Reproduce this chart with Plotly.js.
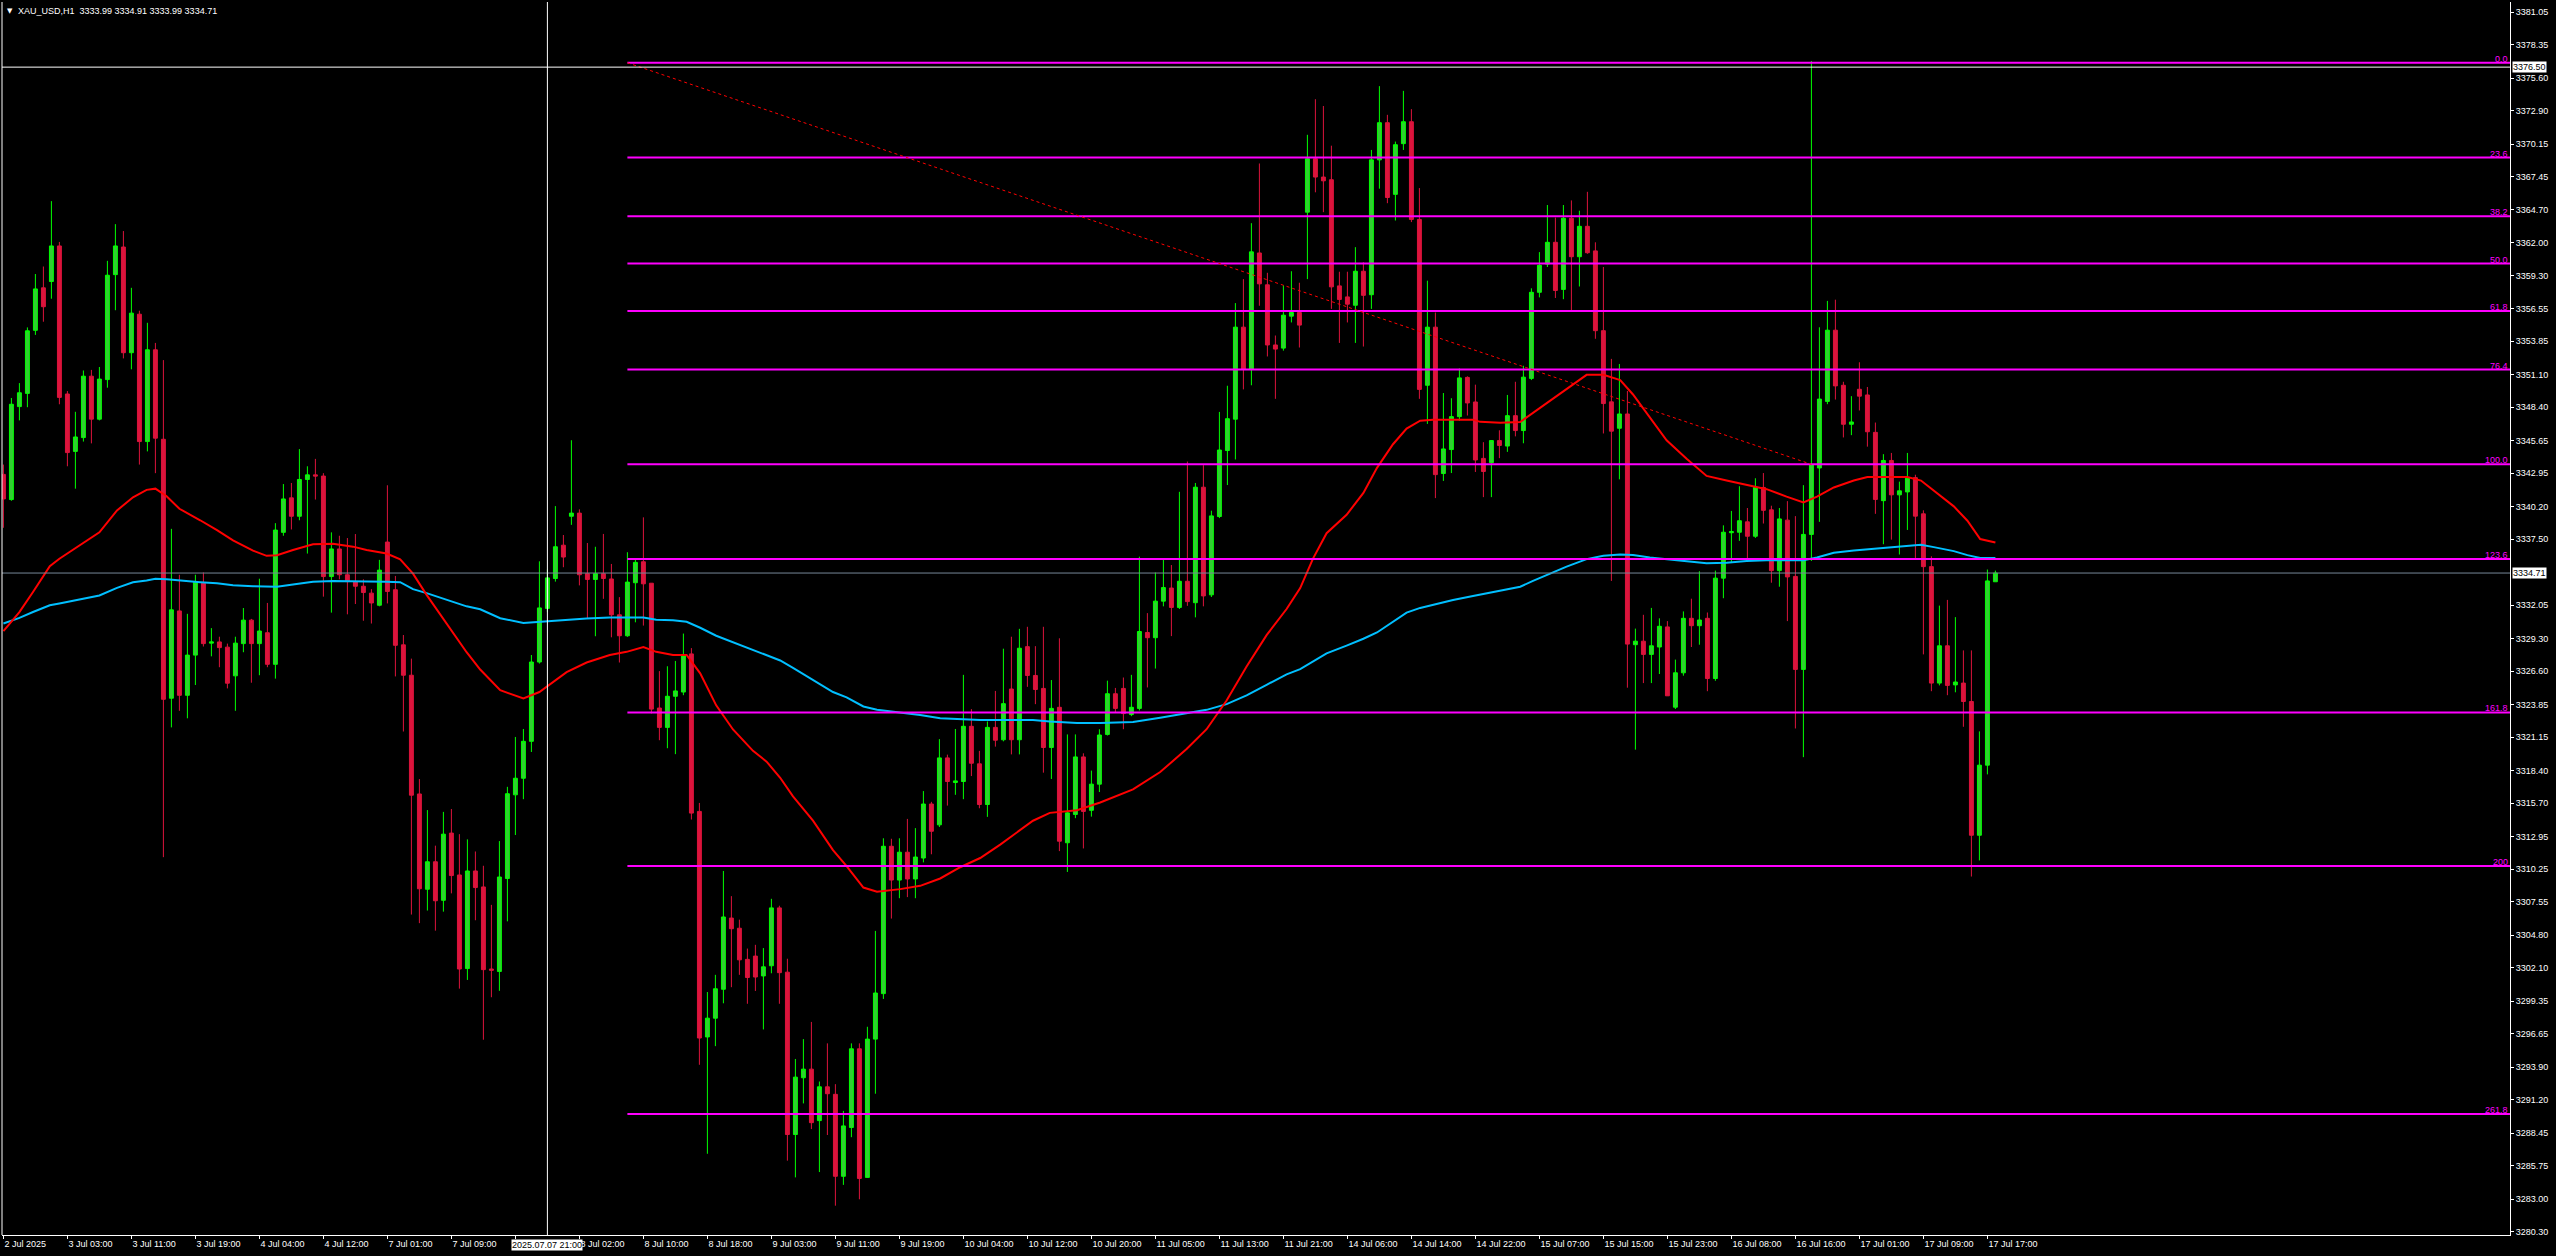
<!DOCTYPE html>
<html>
<head>
<meta charset="utf-8">
<script src="https://cdn.plot.ly/plotly-3.0.1.min.js"></script>
<style>
html,body{margin:0;padding:0;background:#000;overflow:hidden}
#chart{width:2556px;height:1256px}
</style>
</head>
<body>
<div id="chart"></div>
<script>
// ---------- DATA ----------
const symbolTitle = "XAU_USD,H1\u00a0\u00a03333.99 3334.91 3333.99 3334.71";

const openP = [
3342.86,3340.78,3348.46,3349.55,3354.76,3358.27,3358.79,3361.73,3349.50,3344.76,
3345.90,3350.97,3347.42,3350.69,3359.36,3361.64,3352.91,3356.09,3345.57,3353.15,
3345.76,3324.37,3331.58,3324.61,3327.93,3333.86,3328.92,3329.02,3328.59,3326.22,
3328.88,3330.82,3328.88,3329.78,3327.17,3338.07,3340.92,3339.40,3342.44,3342.82,
3342.72,3334.42,3336.70,3334.57,3334.00,3333.62,3333.05,3332.05,3337.27,3333.33,
3328.78,3326.27,3316.46,3308.59,3310.86,3307.68,3313.23,3309.77,3302.04,3310.10,
3308.78,3302.00,3301.80,3309.48,3316.39,3317.76,3320.81,3327.36,3331.79,3334.26,
3337.01,3339.40,3339.66,3334.66,3334.18,3334.66,3334.22,3331.26,3329.53,3333.91,
3335.64,3333.87,3323.56,3321.96,3324.53,3324.88,3328.03,3315.02,3296.39,3297.94,
3300.33,3306.21,3305.37,3302.80,3303.07,3301.43,3302.27,3307.05,3301.74,3288.33,
3293.02,3293.73,3289.48,3292.27,3291.65,3284.88,3288.91,3295.41,3284.79,3296.21,
3299.97,3312.14,3309.35,3311.65,3309.44,3311.17,3315.63,3313.91,3319.44,3317.41,
3317.49,3322.05,3318.95,3315.59,3321.96,3320.94,3325.13,3320.94,3328.63,3326.25,
3325.18,3320.30,3323.62,3312.43,3314.77,3319.52,3315.11,3317.27,3321.38,3324.74,
3325.18,3323.02,3323.53,3329.80,3329.37,3332.39,3333.47,3331.87,3334.03,3332.26,
3341.80,3332.91,3339.38,3344.83,3347.42,3355.02,3351.52,3361.15,3358.52,3353.55,
3353.29,3355.93,3356.23,3364.52,3368.93,3367.42,3367.20,3358.43,3357.52,3356.83,
3359.64,3357.70,3368.84,3371.91,3365.99,3370.18,3371.99,3363.92,3350.22,3355.02,
3342.93,3344.91,3347.63,3350.87,3348.84,3344.18,3343.83,3345.65,3345.20,3347.71,
3346.48,3350.79,3357.90,3360.23,3362.03,3358.14,3364.02,3360.84,3363.35,3361.32,
3354.73,3348.85,3346.67,3347.85,3328.79,3329.08,3327.99,3328.60,3330.26,3323.63,
3326.47,3330.97,3330.36,3330.97,3326.00,3334.29,3338.04,3338.08,3338.94,3337.75,
3341.78,3339.93,3334.91,3339.08,3334.43,3326.75,3337.90,3343.39,3348.89,3354.77,
3350.22,3347.00,3349.89,3349.42,3346.33,3340.69,3344.01,3341.17,3341.41,3342.59,
3339.60,3335.24,3325.62,3328.70,3325.47,3325.62,3324.10,3313.05,3318.84,3333.99];

const highP = [
3343.67,3349.17,3350.40,3355.00,3359.41,3360.03,3365.43,3362.06,3349.74,3348.03,
3351.44,3351.49,3351.73,3360.50,3363.53,3362.96,3358.27,3356.38,3355.38,3353.72,
3352.30,3338.36,3334.57,3331.34,3334.57,3334.76,3330.16,3329.45,3328.88,3329.45,
3331.82,3330.92,3334.24,3332.24,3338.83,3342.06,3342.15,3344.95,3343.53,3344.14,
3342.96,3338.07,3337.79,3337.60,3337.93,3334.19,3333.38,3335.80,3341.96,3334.47,
3329.59,3327.64,3317.69,3315.13,3312.19,3314.98,3315.22,3313.14,3312.71,3311.71,
3310.53,3307.30,3312.57,3317.05,3321.17,3321.83,3327.94,3335.68,3335.00,3340.24,
3337.85,3345.68,3339.97,3337.19,3336.88,3337.94,3335.46,3332.72,3336.43,3335.81,
3339.31,3333.87,3326.61,3327.01,3327.45,3329.71,3328.51,3315.72,3300.10,3301.52,
3310.10,3308.02,3306.08,3303.69,3304.00,3303.73,3307.80,3307.23,3302.85,3294.57,
3296.21,3297.63,3292.71,3295.86,3292.49,3290.28,3295.86,3295.86,3297.23,3305.15,
3312.80,3312.76,3312.80,3314.40,3313.64,3316.70,3315.81,3320.99,3319.71,3321.83,
3326.30,3323.47,3320.02,3322.45,3324.97,3328.46,3329.45,3330.10,3330.27,3328.67,
3330.27,3325.87,3329.32,3321.38,3321.38,3319.82,3318.39,3321.81,3325.82,3325.22,
3326.08,3326.30,3336.06,3331.40,3334.76,3335.93,3335.37,3341.42,3343.92,3342.15,
3343.62,3339.86,3348.02,3350.18,3357.01,3358.99,3363.61,3368.54,3359.51,3354.33,
3358.47,3359.64,3358.69,3370.91,3373.85,3373.29,3370.01,3359.60,3359.60,3361.63,
3360.38,3369.66,3374.93,3372.56,3370.35,3374.54,3373.03,3366.51,3358.86,3356.23,
3349.58,3349.15,3351.61,3350.96,3350.27,3345.52,3345.69,3346.50,3349.42,3350.51,
3351.83,3358.23,3361.22,3365.11,3364.07,3365.11,3365.49,3364.64,3366.20,3362.03,
3359.99,3352.40,3351.98,3349.75,3330.12,3331.26,3331.83,3330.97,3330.74,3327.56,
3331.54,3332.59,3334.86,3331.45,3334.91,3338.65,3339.84,3341.88,3340.08,3342.54,
3342.97,3340.27,3340.08,3340.65,3339.41,3341.97,3377.00,3355.01,3357.19,3357.29,
3350.51,3349.32,3352.12,3350.08,3347.14,3344.53,3344.63,3342.26,3344.63,3342.83,
3339.89,3336.09,3332.02,3332.49,3331.07,3328.32,3328.32,3321.63,3335.00,3334.91];

const lowP = [
3338.45,3340.68,3347.32,3348.41,3354.38,3355.47,3357.37,3348.65,3343.53,3341.68,
3345.57,3345.42,3347.32,3350.02,3356.42,3352.44,3351.54,3343.67,3344.76,3342.96,
3311.24,3321.96,3323.33,3322.71,3325.46,3328.64,3327.83,3326.93,3325.18,3323.33,
3328.17,3325.65,3326.27,3326.93,3325.99,3337.79,3338.31,3339.07,3336.32,3340.78,
3332.76,3331.44,3334.19,3331.30,3332.15,3330.77,3330.54,3331.96,3332.20,3326.17,
3321.62,3306.50,3305.79,3306.83,3305.17,3306.74,3308.25,3300.38,3301.10,3306.03,
3296.16,3299.67,3300.20,3305.94,3313.07,3316.03,3319.93,3327.23,3331.50,3334.00,
3335.19,3338.69,3333.69,3330.99,3329.49,3332.58,3329.40,3327.32,3329.44,3330.64,
3330.37,3323.11,3320.90,3320.24,3319.75,3324.62,3314.35,3294.09,3286.74,3295.63,
3299.17,3300.50,3301.52,3299.13,3300.19,3297.01,3301.65,3299.13,3286.17,3284.79,
3290.90,3288.78,3285.23,3288.29,3282.45,3284.17,3288.11,3282.98,3284.79,3291.70,
3299.53,3306.17,3307.85,3307.94,3307.85,3310.81,3311.48,3313.73,3315.50,3316.39,
3316.03,3317.94,3315.28,3314.57,3320.37,3320.81,3319.73,3319.73,3325.31,3323.88,
3318.22,3317.70,3311.74,3310.02,3314.46,3311.96,3314.59,3316.62,3321.29,3323.15,
3321.81,3322.89,3323.36,3325.26,3326.82,3331.96,3329.50,3331.74,3332.00,3331.05,
3331.96,3332.73,3339.25,3341.98,3344.09,3349.88,3350.22,3356.79,3352.60,3349.10,
3353.08,3355.41,3353.34,3358.99,3366.16,3364.52,3356.53,3353.72,3355.41,3353.72,
3353.42,3356.53,3366.46,3365.26,3363.83,3369.66,3363.70,3349.10,3347.03,3340.90,
3342.32,3342.97,3347.29,3347.72,3343.06,3340.98,3340.98,3344.20,3344.72,3346.00,
3345.43,3350.65,3357.48,3359.99,3357.43,3357.33,3356.34,3358.38,3361.08,3354.06,
3346.24,3334.06,3342.45,3325.24,3320.12,3325.62,3325.62,3326.37,3324.57,3323.48,
3326.23,3328.60,3328.79,3324.95,3325.81,3332.63,3335.62,3337.37,3335.91,3337.61,
3338.80,3333.91,3333.58,3330.74,3321.87,3319.50,3335.71,3338.94,3348.66,3349.04,
3345.91,3346.10,3348.14,3345.15,3339.60,3337.09,3337.47,3336.24,3338.27,3335.91,
3327.99,3324.95,3325.43,3324.62,3324.86,3322.01,3309.64,3310.97,3318.08,3333.99];

const closeP = [
3340.83,3348.65,3349.60,3354.72,3358.18,3356.71,3361.73,3349.22,3344.66,3345.95,
3350.97,3347.42,3350.73,3359.31,3361.73,3352.91,3356.18,3345.57,3353.15,3345.85,
3324.28,3331.67,3324.61,3327.93,3333.95,3328.88,3329.02,3328.55,3325.61,3328.92,
3330.82,3328.88,3329.92,3327.17,3338.26,3340.83,3339.40,3342.44,3342.82,3342.72,
3334.42,3336.70,3334.57,3334.00,3333.62,3333.10,3332.24,3334.95,3333.19,3328.74,
3326.27,3316.36,3308.63,3310.86,3307.64,3313.14,3309.72,3302.00,3310.10,3308.73,
3301.95,3301.90,3309.60,3316.48,3317.76,3320.81,3327.36,3331.83,3334.31,3336.88,
3336.03,3339.66,3334.57,3334.18,3334.66,3334.26,3331.26,3329.53,3333.96,3335.59,
3333.82,3323.47,3321.96,3324.53,3324.97,3327.89,3314.88,3296.30,3297.94,3300.37,
3306.30,3305.33,3302.76,3301.30,3301.34,3302.18,3307.05,3301.70,3288.33,3293.07,
3293.73,3289.31,3292.27,3291.70,3284.88,3289.04,3295.41,3284.70,3296.21,3300.02,
3312.14,3309.35,3311.65,3309.44,3311.25,3315.63,3313.38,3319.44,3317.49,3317.54,
3322.05,3319.00,3315.59,3321.96,3320.90,3323.92,3320.94,3328.50,3326.25,3325.09,
3320.30,3323.53,3312.56,3314.90,3319.52,3315.02,3317.27,3321.33,3324.74,3323.53,
3323.10,3323.62,3329.88,3329.37,3332.39,3333.51,3331.87,3334.03,3332.35,3341.80,
3332.82,3339.43,3344.87,3347.46,3355.02,3351.52,3361.24,3358.60,3353.55,3353.21,
3356.01,3356.23,3355.19,3368.93,3367.42,3367.11,3358.35,3357.31,3356.92,3359.64,
3357.65,3368.84,3371.91,3365.73,3370.09,3371.99,3363.92,3349.88,3355.02,3342.84,
3344.96,3347.63,3350.83,3348.76,3344.05,3343.10,3345.65,3345.25,3347.71,3346.48,
3350.89,3357.90,3360.13,3362.03,3358.05,3364.02,3360.84,3363.35,3361.17,3354.73,
3348.71,3346.43,3347.85,3328.84,3329.08,3327.99,3328.70,3330.31,3324.57,3326.47,
3330.97,3330.36,3330.83,3326.00,3334.29,3338.08,3338.13,3339.03,3337.75,3341.78,
3339.89,3334.91,3339.18,3334.39,3326.75,3337.90,3343.63,3349.08,3354.77,3350.17,
3347.00,3347.19,3349.32,3346.38,3340.79,3344.01,3341.17,3341.50,3342.54,3339.41,
3335.24,3325.62,3328.70,3325.43,3325.71,3324.10,3313.05,3318.84,3334.06,3334.71];

// Red moving average (bar position, price)
const maRedBar = [0,2,3.7,5.8,7,10,12,14.2,16.2,17.9,19,20.4,22,24.6,26.7,28.7,31.2,32.9,34.2,36.2,38.7,41.2,43.7,45.4,47.9,49.6,51.2,52.9,55.4,57.9,59.6,62.1,65,67,70.4,72.9,75.8,77.9,80,81.6,83.7,85.4,87.1,89.1,91.2,93.7,95.4,97.1,98.7,101.2,103.7,105.4,107.5,109.2,112.1,114.6,117.1,119.6,122.1,124.6,128.7,130.8,134.2,137.1,141.2,144.6,147.9,150.4,152.9,155.4,157.9,160.4,162.1,163.7,165.4,167.9,170,171.7,173.7,175.4,177.1,178.7,181.2,183.7,184.6,187.1,189.6,191.2,193.3,195.4,197.9,200,202.1,203.7,205.8,207.9,210.4,212.9,215.4,217.9,220.4,222.9,225,226.7,228.8,231.3,233,235.5,238,239.7,241.3,243.8,245.5,247.1,249];
const maRedVal = [3329.92,3331.48,3333.14,3335.28,3335.89,3337.17,3338.07,3339.88,3340.97,3341.58,3341.68,3341.06,3340.02,3339.07,3338.26,3337.41,3336.56,3336.13,3336.18,3336.61,3337.08,3337.13,3336.89,3336.61,3336.32,3335.85,3334.66,3332.91,3330.54,3328.17,3326.74,3325.03,3324.35,3324.88,3326.52,3327.32,3327.94,3328.20,3328.60,3328.20,3327.94,3327.94,3326.43,3323.78,3321.79,3320.02,3319.13,3317.80,3316.26,3314.26,3311.83,3310.50,3308.73,3308.38,3308.60,3308.87,3309.48,3310.41,3311.17,3312.28,3314.25,3314.90,3315.11,3315.76,3316.84,3318.27,3320.17,3321.81,3324.18,3326.99,3329.58,3331.74,3333.47,3335.90,3338.00,3339.52,3341.33,3343.40,3345.35,3346.64,3347.29,3347.38,3347.38,3347.38,3347.20,3347.12,3347.19,3347.95,3348.89,3349.94,3351.08,3351.08,3350.65,3349.46,3347.57,3345.67,3344.15,3342.73,3342.35,3341.97,3341.64,3341.02,3340.55,3341.02,3341.78,3342.35,3342.64,3342.64,3342.64,3342.35,3341.50,3340.22,3339.03,3337.52,3337.23];

// Deep-sky-blue moving average (bar position, price)
const maBlueBar = [0,2,3.7,5.8,7,10,12,14.2,16.2,17.9,19,20.4,22,24.6,26.7,28.7,31.2,34.2,36.2,38.7,41.2,43.7,47.9,49.6,51.2,52.9,55.4,57.9,59.6,62.1,65,67,70.4,72.9,75.8,80,81.6,83.7,85.4,87.1,89.1,91.2,93.7,95.4,97.1,98.7,101.2,103.7,105.4,107.5,109.2,112.1,114.6,117.1,119.6,122.1,124.6,128.7,130.8,134.2,137.1,141.2,144.6,147.9,150.4,152.9,155.4,157.9,160.4,162.1,163.7,165.4,167.9,170,171.7,173.7,175.4,177.1,178.7,181.2,183.7,187.1,189.6,191.2,193.3,195.4,197.9,200,202.1,203.7,205.8,207.9,210.4,212.9,215.4,217.9,220.4,225,226.7,228.8,231.3,233,235.5,238,239.7,241.3,243.8,245.5,247.1,249];
const maBlueVal = [3330.54,3331.01,3331.49,3332.05,3332.20,3332.57,3332.86,3333.48,3333.95,3334.09,3334.23,3334.19,3334.09,3333.95,3333.86,3333.71,3333.62,3333.57,3333.76,3334.00,3334.05,3334.05,3334.00,3333.95,3333.38,3333.05,3332.53,3331.96,3331.72,3330.98,3330.59,3330.68,3330.86,3330.95,3331.03,3331.03,3330.86,3330.81,3330.68,3330.19,3329.53,3329.00,3328.38,3327.98,3327.49,3326.88,3325.86,3324.88,3324.44,3323.69,3323.42,3323.20,3322.98,3322.72,3322.63,3322.58,3322.58,3322.58,3322.45,3322.32,3322.32,3322.41,3322.76,3323.10,3323.41,3323.88,3324.61,3325.48,3326.34,3326.77,3327.42,3328.07,3328.72,3329.28,3329.80,3330.66,3331.44,3331.83,3332.09,3332.48,3332.82,3333.25,3333.58,3334.06,3334.67,3335.24,3335.86,3336.14,3336.24,3336.19,3336.00,3335.86,3335.71,3335.52,3335.57,3335.71,3335.76,3335.76,3336.00,3336.38,3336.57,3336.66,3336.81,3336.95,3337.04,3336.85,3336.52,3336.19,3335.95,3335.95];

// Fibonacci object
const fibLevels = [0, 23.6, 38.2, 50.0, 61.8, 76.4, 100.0, 123.6, 161.8, 200, 261.8];
const fibLabels = ["0.0","23.6","38.2","50.0","61.8","76.4","100.0","123.6","161.8","200","261.8"];
const fibAnchorBars = [78, 226];
const fibAnchorPrices = [3376.86, 3343.69];

// Crosshair and bid
const crossBar = 68;
const crossTimeLabel = "2025.07.07 21:00";
const crossPrice = 3376.50;
const crossPriceLabel = "3376.50";
const bidPrice = 3334.71;
const bidLabel = "3334.71";

// Axis labels (the label under the crosshair time box is hidden in the reference)
const xTickText = ["2 Jul 2025","3 Jul 03:00","3 Jul 11:00","3 Jul 19:00","4 Jul 04:00","4 Jul 12:00","7 Jul 01:00","7 Jul 09:00","","8 Jul 02:00","8 Jul 10:00","8 Jul 18:00","9 Jul 03:00","9 Jul 11:00","9 Jul 19:00","10 Jul 04:00","10 Jul 12:00","10 Jul 20:00","11 Jul 05:00","11 Jul 13:00","11 Jul 21:00","14 Jul 06:00","14 Jul 14:00","14 Jul 22:00","15 Jul 07:00","15 Jul 15:00","15 Jul 23:00","16 Jul 08:00","16 Jul 16:00","17 Jul 01:00","17 Jul 09:00","17 Jul 17:00"];
const xTickStep = 8;
const yTickText = ["3381.05","3378.35","3375.60","3372.90","3370.15","3367.45","3364.70","3362.00","3359.30","3356.55","3353.85","3351.10","3348.40","3345.65","3342.95","3340.20","3337.50","3332.05","3329.30","3326.60","3323.85","3321.15","3318.40","3315.70","3312.95","3310.25","3307.55","3304.80","3302.10","3299.35","3296.65","3293.90","3291.20","3288.45","3285.75","3283.00","3280.30"];

// ---------- BUILD ----------
const bars = openP.map((_, i) => i);
const xRange = [-0.175, 313.325];
const yRange = [3280.03, 3381.88];
const FONT = "Liberation Sans, Arial, sans-serif";

const traces = [
  {
    type: "candlestick", x: bars, open: openP, high: highP, low: lowP, close: closeP,
    increasing: {line: {color: "#00FF00", width: 1}, fillcolor: "#32CD32"},
    decreasing: {line: {color: "#DC143C", width: 1}, fillcolor: "#DC143C"},
    whiskerwidth: 0, hoverinfo: "skip", showlegend: false
  },
  {type: "scatter", mode: "lines", x: maBlueBar, y: maBlueVal, line: {color: "#00BFFF", width: 2}, hoverinfo: "skip"},
  {type: "scatter", mode: "lines", x: maRedBar, y: maRedVal, line: {color: "#FF0000", width: 2}, hoverinfo: "skip"}
];

const fibPrice = lv => fibAnchorPrices[0] + (fibAnchorPrices[1] - fibAnchorPrices[0]) * lv / 100;

const shapes = [];
const annotations = [];

// bid line
shapes.push({type: "line", xref: "x", yref: "y", x0: xRange[0], x1: xRange[1], y0: bidPrice, y1: bidPrice, line: {color: "#778899", width: 1}, layer: "above"});

fibLevels.forEach((lv, k) => {
  const p = fibPrice(lv);
  shapes.push({type: "line", xref: "x", yref: "y", x0: fibAnchorBars[0], x1: xRange[1], y0: p, y1: p, line: {color: "#FF00FF", width: 2}, layer: "above"});
  annotations.push({xref: "paper", yref: "y", x: 1, y: p, xanchor: "right", yanchor: "bottom", xshift: -1, yshift: -2, text: fibLabels[k], showarrow: false, font: {family: FONT, size: 9, color: "#FF00FF"}, borderpad: 0});
});

// fib trend (dotted red)
shapes.push({type: "line", xref: "x", yref: "y", x0: fibAnchorBars[0], x1: fibAnchorBars[1], y0: fibAnchorPrices[0], y1: fibAnchorPrices[1], line: {color: "#FF0000", width: 1, dash: "dot"}, layer: "above"});

// crosshair
shapes.push({type: "line", xref: "x", yref: "paper", x0: crossBar, x1: crossBar, y0: 0, y1: 1, line: {color: "#FFFFFF", width: 1}, layer: "above"});
shapes.push({type: "line", xref: "x", yref: "y", x0: xRange[0], x1: xRange[1], y0: crossPrice, y1: crossPrice, line: {color: "#FFFFFF", width: 1}, layer: "above"});

// left frame
shapes.push({type: "line", xref: "paper", yref: "paper", x0: 0, x1: 0, y0: 0, y1: 1, line: {color: "#FFFFFF", width: 1}, layer: "above"});

// labels in boxes
annotations.push({xref: "x", yref: "paper", x: crossBar, y: 0, yanchor: "top", xanchor: "center", yshift: -4, text: crossTimeLabel, showarrow: false, bgcolor: "#FFFFFF", borderpad: 0, font: {family: FONT, size: 9, color: "#000000"}});
annotations.push({xref: "paper", yref: "y", x: 1, y: crossPrice, xanchor: "left", yanchor: "middle", xshift: 2, text: crossPriceLabel, showarrow: false, bgcolor: "#FFFFFF", borderpad: 0, font: {family: FONT, size: 9, color: "#000000"}});
annotations.push({xref: "paper", yref: "y", x: 1, y: bidPrice, xanchor: "left", yanchor: "middle", xshift: 2, text: bidLabel, showarrow: false, bgcolor: "#FFFFFF", borderpad: 0, font: {family: FONT, size: 9, color: "#000000"}});

// title
annotations.push({xref: "paper", yref: "paper", x: 0, y: 1, xanchor: "left", yanchor: "middle", xshift: 3, yshift: -9, text: "\u25BC", showarrow: false, font: {family: "DejaVu Sans", size: 7, color: "#FFFFFF"}});
annotations.push({xref: "paper", yref: "paper", x: 0, y: 1, xanchor: "left", yanchor: "middle", xshift: 14, yshift: -9, text: symbolTitle, showarrow: false, font: {family: FONT, size: 9, color: "#FFFFFF"}});

const layout = {
  width: 2556, height: 1256,
  margin: {l: 2, r: 46, t: 2, b: 21, pad: 0},
  paper_bgcolor: "#000000", plot_bgcolor: "#000000",
  showlegend: false, hovermode: false, dragmode: false,
  font: {family: FONT, size: 9, color: "#FFFFFF"},
  xaxis: {
    type: "linear", range: xRange, autorange: false, fixedrange: true,
    rangeslider: {visible: false},
    tickmode: "array", tickvals: xTickText.map((_, k) => k * xTickStep), ticktext: xTickText,
    ticks: "outside", ticklen: 3, tickcolor: "#FFFFFF", tickwidth: 1,
    ticklabelposition: "outside right",
    showgrid: false, zeroline: false, showline: true, linecolor: "#FFFFFF", linewidth: 1,
    tickfont: {family: FONT, size: 9, color: "#FFFFFF"}
  },
  yaxis: {
    type: "linear", side: "right", range: yRange, autorange: false, fixedrange: true,
    tickmode: "array", tickvals: yTickText.map(Number), ticktext: yTickText,
    ticks: "outside", ticklen: 3, tickcolor: "#FFFFFF", tickwidth: 1,
    showgrid: false, zeroline: false, showline: true, linecolor: "#FFFFFF", linewidth: 1,
    tickfont: {family: FONT, size: 9, color: "#FFFFFF"}
  },
  shapes: shapes,
  annotations: annotations
};

Plotly.newPlot("chart", traces, layout, {staticPlot: true, displayModeBar: false});
</script>
</body>
</html>
